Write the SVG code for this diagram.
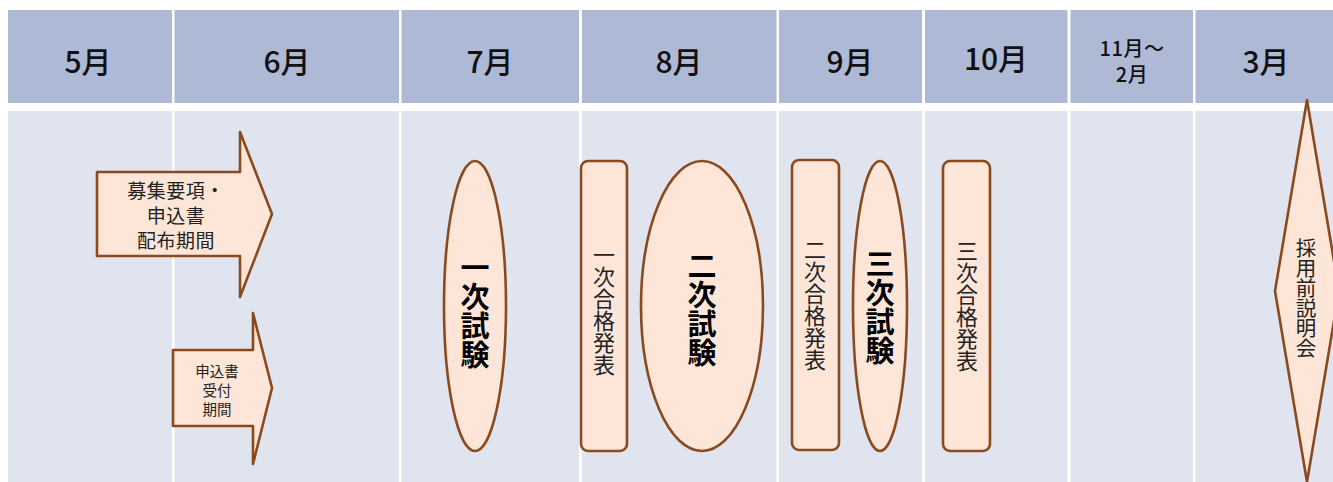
<svg xmlns="http://www.w3.org/2000/svg" width="1333" height="482" viewBox="0 0 1333 482">
<style>
.hd{fill:#AEB9D6}
.bd{fill:#DFE4EF}
.mo{font-family:"Noto Sans CJK JP","Noto Sans",sans-serif;font-size:30px;font-weight:500;fill:#111;text-anchor:middle;dominant-baseline:central}
.m2{font-size:20px;letter-spacing:0.5px}
.sh{fill:#FDE6D8;stroke:#8A4A1E;stroke-width:2.6;stroke-linejoin:round}
.tx{font-family:"Noto Sans CJK JP",sans-serif;fill:#222;text-anchor:middle}
.vt{font-family:"Noto Sans CJK JP",sans-serif;fill:#222;text-anchor:middle;writing-mode:vertical-rl;dominant-baseline:central}
.vb{font-weight:700;fill:#000;font-size:29px}
</style>
<rect x="0" y="0" width="1333" height="482" fill="#FFFFFF"/>
<g id="table">
<rect class="hd" x="8" y="10" width="164" height="93"/>
<rect class="hd" x="174.5" y="10" width="224.5" height="93"/>
<rect class="hd" x="401.5" y="10" width="177.5" height="93"/>
<rect class="hd" x="582" y="10" width="194.5" height="93"/>
<rect class="hd" x="779" y="10" width="143" height="93"/>
<rect class="hd" x="925" y="10" width="142.5" height="93"/>
<rect class="hd" x="1070.5" y="10" width="122.5" height="93"/>
<rect class="hd" x="1195.5" y="10" width="137.5" height="93"/>
<rect class="bd" x="8" y="111" width="164" height="371"/>
<rect class="bd" x="174.5" y="111" width="224.5" height="371"/>
<rect class="bd" x="401.5" y="111" width="177.5" height="371"/>
<rect class="bd" x="582" y="111" width="194.5" height="371"/>
<rect class="bd" x="779" y="111" width="143" height="371"/>
<rect class="bd" x="925" y="111" width="142.5" height="371"/>
<rect class="bd" x="1070.5" y="111" width="122.5" height="371"/>
<rect class="bd" x="1195.5" y="111" width="137.5" height="371"/>
<text class="mo" x="88" y="60">5月</text>
<text class="mo" x="287" y="60">6月</text>
<text class="mo" x="490" y="60">7月</text>
<text class="mo" x="679" y="60">8月</text>
<text class="mo" x="850" y="60">9月</text>
<text class="mo" x="996" y="57">10月</text>
<text class="mo m2" x="1132" y="46.5"><tspan x="1132" y="46.5">11月～</tspan><tspan x="1132" y="73">2月</tspan></text>
<text class="mo" x="1266" y="60">3月</text>
</g>
<g id="connectors"></g>
<g id="n-haifu">
<polygon class="sh" points="97,172 240,172 240,132 272,214 240,297 240,256 97,256"/>
<text class="tx" x="176" y="198" style="font-size:19px;letter-spacing:0.5px"><tspan x="176" y="198">募集要項・</tspan><tspan x="176" y="223">申込書</tspan><tspan x="176" y="248">配布期間</tspan></text>
</g>
<g id="n-uketsuke">
<polygon class="sh" points="173,350 253,350 253,313 272,388 253,464 253,426 173,426"/>
<text class="tx" x="217" y="377" style="font-size:14.5px"><tspan x="217" y="377">申込書</tspan><tspan x="217" y="396">受付</tspan><tspan x="217" y="415">期間</tspan></text>
</g>
<g id="n-ichiji">
<ellipse class="sh" cx="475" cy="306" rx="31" ry="145"/>
<text class="vt vb" x="475" y="311">一次試験</text>
</g>
<g id="n-ichiji-goukaku">
<rect class="sh" x="581" y="161" width="46" height="290" rx="7"/>
<text class="vt" x="604" y="310" style="font-size:22px">一次合格発表</text>
</g>
<g id="n-niji">
<ellipse class="sh" cx="702" cy="306" rx="61" ry="145"/>
<text class="vt vb" x="702" y="309">二次試験</text>
</g>
<g id="n-niji-goukaku">
<rect class="sh" x="792" y="160" width="47" height="290" rx="7"/>
<text class="vt" x="815" y="305" style="font-size:22px">二次合格発表</text>
</g>
<g id="n-sanji">
<ellipse class="sh" cx="880" cy="306" rx="27" ry="145"/>
<text class="vt vb" x="880" y="307">三次試験</text>
</g>
<g id="n-sanji-goukaku">
<rect class="sh" x="943" y="161" width="47" height="290" rx="7"/>
<text class="vt" x="967" y="306" style="font-size:22px">三次合格発表</text>
</g>
<g id="n-setsumeikai">
<polygon class="sh" points="1307,100 1339,291 1307,482 1275,291"/>
<text class="vt" x="1306" y="298" style="font-size:20.5px;letter-spacing:-0.5px">採用前説明会</text>
</g>
</svg>
